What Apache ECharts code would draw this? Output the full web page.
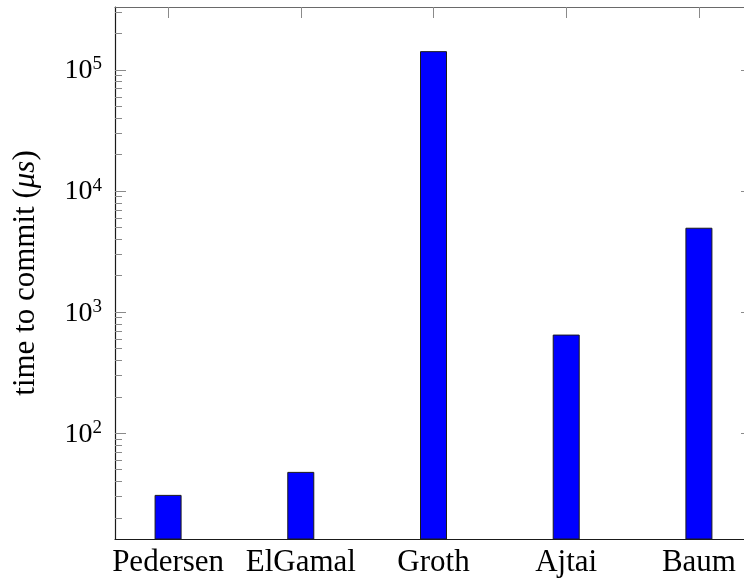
<!DOCTYPE html>
<html>
<head>
<meta charset="utf-8">
<script src="https://cdn.jsdelivr.net/npm/echarts@6/dist/echarts.min.js"></script>
<style>
html,body{margin:0;padding:0;background:#fff;}
#chart{width:744px;height:581px;}
</style>
</head>
<body>
<div id="chart"></div>
<script>
// ---- data ----
var categories = ['Pedersen', 'ElGamal', 'Groth', 'Ajtai', 'Baum'];
var categoryPositions = [0, 1, 2, 3, 4];
var commitTimes = [31, 48, 143000, 653, 4980];
var yMajorTicks = [100, 1000, 10000, 100000];
var yMajorExponents = ['2', '3', '4', '5'];
var yMinorTicks = [20, 30, 40, 50, 60, 70, 80, 90,
                   200, 300, 400, 500, 600, 700, 800, 900,
                   2000, 3000, 4000, 5000, 6000, 7000, 8000, 9000,
                   20000, 30000, 40000, 50000, 60000, 70000, 80000, 90000,
                   200000, 300000];
var yMin = 13.4, yMax = 331000;
var xMin = -0.4, xMax = 4.4;

var FONT = '"Liberation Serif", "DejaVu Serif", serif';
var barData = categoryPositions.map(function (p, i) { return [p, commitTimes[i]]; });

function logAxis(pos, major, showLine) {
  return {
    type: 'log', logBase: 10, min: yMin, max: yMax, position: pos,
    axisLine: { show: showLine, onZero: false, lineStyle: { color: '#1a1a1a', width: 1.2 } },
    axisTick: { show: true, inside: true, length: major ? 11 : 7,
      customValues: major ? yMajorTicks : yMinorTicks,
      lineStyle: { color: '#8a8a8a', width: 1 } },
    axisLabel: { show: false },
    splitLine: { show: false }, minorTick: { show: false }
  };
}

var yLeft = logAxis('left', true, true);
yLeft.axisLabel = {
  show: true, margin: 13, customValues: yMajorTicks,
  formatter: function (v) {
    var idx = yMajorTicks.indexOf(v);
    return '{b|10}{s|' + yMajorExponents[idx] + '}';
  },
  rich: {
    b: { fontFamily: FONT, fontSize: 28, color: '#000', verticalAlign: 'bottom', lineHeight: 30 },
    s: { fontFamily: FONT, fontSize: 19, color: '#000', verticalAlign: 'top', lineHeight: 22 }
  }
};
yLeft.name = '{n|time to commit (}{i|μs}{n|)}';
yLeft.nameLocation = 'middle';
yLeft.nameGap = 74;
yLeft.nameRotate = 90;
yLeft.nameTextStyle = {
  rich: {
    n: { fontFamily: FONT, fontSize: 31, color: '#000' },
    i: { fontFamily: FONT, fontSize: 31, color: '#000', fontStyle: 'italic' }
  }
};

var option = {
  animation: false,
  backgroundColor: '#fff',
  grid: { left: 115, width: 637, top: 7, bottom: 42, containLabel: false, outerBoundsMode: 'none' },
  xAxis: [
    {
      type: 'value', min: xMin, max: xMax, position: 'bottom',
      axisLine: { show: true, onZero: false, lineStyle: { color: '#1a1a1a', width: 1.2 } },
      axisTick: { show: false },
      splitLine: { show: false },
      axisLabel: {
        show: true, customValues: categoryPositions, margin: 8,
        fontFamily: FONT, fontSize: 31, color: '#000',
        formatter: function (v) { return categories[Math.round(v)]; }
      }
    },
    {
      type: 'value', min: xMin, max: xMax, position: 'top',
      axisLine: { show: true, onZero: false, lineStyle: { color: '#6a6a6a', width: 1.2 } },
      axisTick: { show: true, inside: true, length: 11, customValues: categoryPositions,
        lineStyle: { color: '#8a8a8a', width: 1 } },
      splitLine: { show: false },
      axisLabel: { show: false }
    }
  ],
  yAxis: [
    yLeft,
    logAxis('left', false, false),
    logAxis('right', true, true),
    logAxis('right', false, false)
  ],
  series: [{
    type: 'bar', xAxisIndex: 0, yAxisIndex: 0,
    data: barData, barWidth: 27,
    itemStyle: { color: '#0000ff', borderColor: '#1a1a1a', borderWidth: 1 }
  }]
};

var chart = echarts.init(document.getElementById('chart'), null, { renderer: 'canvas' });
chart.setOption(option);
</script>
</body>
</html>
